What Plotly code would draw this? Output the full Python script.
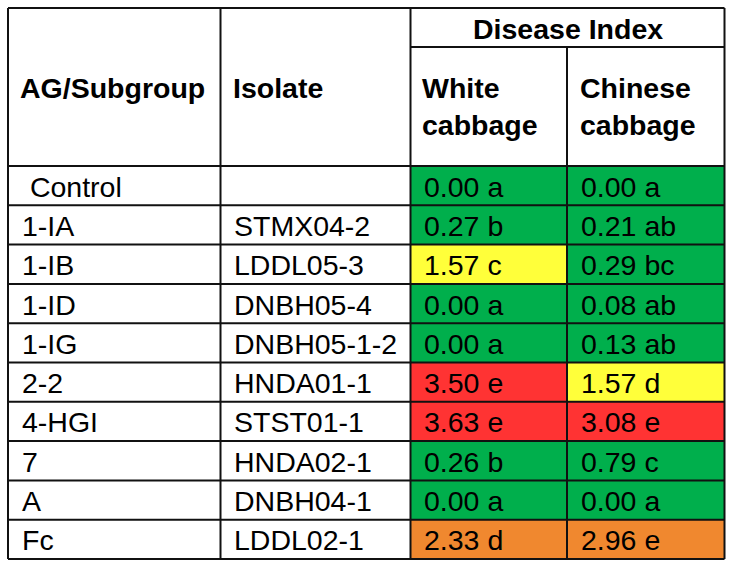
import plotly.graph_objects as go

# ---- data ----
ag_subgroup = ["Control", "1-IA", "1-IB", "1-ID", "1-IG", "2-2", "4-HGI", "7", "A", "Fc"]
isolate = ["", "STMX04-2", "LDDL05-3", "DNBH05-4", "DNBH05-1-2", "HNDA01-1",
           "STST01-1", "HNDA02-1", "DNBH04-1", "LDDL02-1"]
white_cabbage = [0.00, 0.27, 1.57, 0.00, 0.00, 3.50, 3.63, 0.26, 0.00, 2.33]
white_letters = ["a", "b", "c", "a", "a", "e", "e", "b", "a", "d"]
chinese_cabbage = [0.00, 0.21, 0.29, 0.08, 0.13, 1.57, 3.08, 0.79, 0.00, 2.96]
chinese_letters = ["a", "ab", "bc", "ab", "ab", "d", "e", "c", "a", "e"]
col_headers = ["AG/Subgroup", "Isolate", "White<br>cabbage", "Chinese<br>cabbage"]
group_header = "Disease Index"

# ---- layout geometry (pixel-like axis units) ----
W, H = 735, 569
col_edges = [8, 220.5, 410.5, 567, 724.5]
top = 8
sub_header_bottom = 47
header_bottom = 166
row_h = 39.3
pad = 11.5
FS = 28.5
FONT = "Liberation Sans, Arial, sans-serif"
LINE = dict(color="#111111", width=2)


def color_for(v):
    if v < 1:
        return "#00AF4C"
    if v < 2:
        return "#FFFF3A"
    if v < 3:
        return "#F0882F"
    return "#FF3333"


shapes = []
annotations = []
n = len(ag_subgroup)
bottom = header_bottom + n * row_h

# cell fills
for i in range(n):
    y0 = header_bottom + i * row_h
    y1 = y0 + row_h
    for j, vals in ((2, white_cabbage), (3, chinese_cabbage)):
        shapes.append(dict(type="rect", xref="x", yref="y", x0=col_edges[j], x1=col_edges[j + 1],
                           y0=y0, y1=y1, fillcolor=color_for(vals[i]), line=dict(width=0), layer="below"))

# grid lines
for i in range(n + 1):
    y = header_bottom + i * row_h
    shapes.append(dict(type="line", xref="x", yref="y", x0=col_edges[0], x1=col_edges[-1], y0=y, y1=y, line=LINE))
shapes.append(dict(type="line", xref="x", yref="y", x0=col_edges[0], x1=col_edges[-1], y0=top, y1=top, line=LINE))
shapes.append(dict(type="line", xref="x", yref="y", x0=col_edges[2], x1=col_edges[-1],
                   y0=sub_header_bottom, y1=sub_header_bottom, line=LINE))
for k, x in enumerate(col_edges):
    y_start = sub_header_bottom if k == 3 else top
    shapes.append(dict(type="line", xref="x", yref="y", x0=x, x1=x, y0=y_start, y1=bottom, line=LINE))


def add_text(x, y, text, bold=False, xanchor="left"):
    annotations.append(dict(x=x, y=y, xref="x", yref="y", text=("<b>%s</b>" % text) if bold else text,
                            showarrow=False, xanchor=xanchor, yanchor="middle",
                            align="left" if xanchor == "left" else "center",
                            font=dict(family=FONT, size=FS, color="black")))


# headers
add_text(col_edges[0] + pad - 2, (top + header_bottom) / 2 + 1, col_headers[0], bold=True)
add_text(col_edges[1] + pad - 1, (top + header_bottom) / 2 + 1, col_headers[1], bold=True)
add_text(col_edges[2] + pad - 2, (sub_header_bottom + header_bottom) / 2, col_headers[2], bold=True)
add_text(col_edges[3] + pad - 1, (sub_header_bottom + header_bottom) / 2, col_headers[3], bold=True)
add_text((col_edges[2] + col_edges[4]) / 2, (top + sub_header_bottom) / 2 + 1, group_header, bold=True, xanchor="center")

# body
for i in range(n):
    yc = header_bottom + (i + 0.5) * row_h + 1
    label = ag_subgroup[i]
    if label == "Control":
        label = "\u00a0" + label
    add_text(col_edges[0] + pad, yc, label)
    if isolate[i]:
        add_text(col_edges[1] + pad, yc, isolate[i])
    add_text(col_edges[2] + pad, yc, "%.2f %s" % (white_cabbage[i], white_letters[i]))
    add_text(col_edges[3] + pad, yc, "%.2f %s" % (chinese_cabbage[i], chinese_letters[i]))

fig = go.Figure()
fig.add_trace(go.Scatter(x=[0, W], y=[0, H], mode="markers", marker=dict(opacity=0), hoverinfo="skip", showlegend=False))
fig.update_layout(
    width=W, height=H, margin=dict(l=0, r=0, t=0, b=0),
    paper_bgcolor="white", plot_bgcolor="white",
    xaxis=dict(range=[0, W], visible=False, fixedrange=True),
    yaxis=dict(range=[H, 0], visible=False, fixedrange=True),
    shapes=shapes, annotations=annotations, showlegend=False,
)
fig.write_html("out.html", config={"displayModeBar": False},
               post_script="document.body.style.margin='0';document.body.style.padding='0';")
